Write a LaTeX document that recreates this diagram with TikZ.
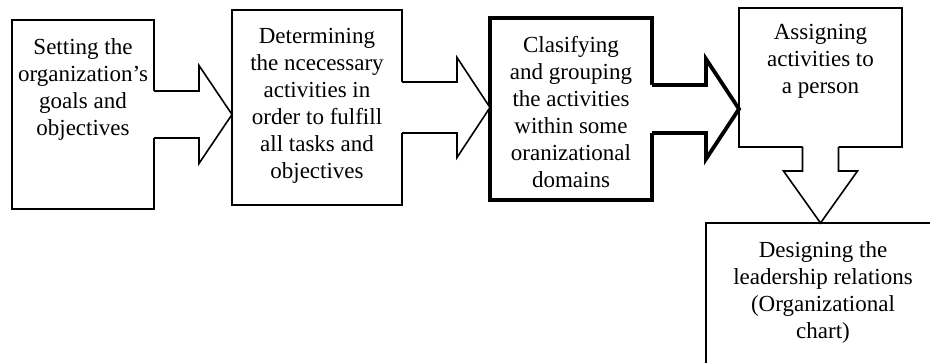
\documentclass[tikz,border=0pt]{standalone}
\usepackage{fontspec}
\setmainfont{Liberation Serif}
\usetikzlibrary{calc}

% block arrow pointing right: [style]{from}{to}{half shaft}{half head}
\newcommand{\blockright}[5][]{%
  \fill[white] let \p1=(#2.east), \p2=(#3.west) in
    (\x1-3pt,\y1+#4pt) -- (\x2-33pt,\y1+#4pt) -- (\x2-33pt,\y1+#5pt) -- (\x2,\y1)
    -- (\x2-33pt,\y1-#5pt) -- (\x2-33pt,\y1-#4pt) -- (\x1-3pt,\y1-#4pt) -- cycle;
  \draw[#1] let \p1=(#2.east), \p2=(#3.west) in
    (\x1,\y1+#4pt) -- (\x2-33pt,\y1+#4pt) -- (\x2-33pt,\y1+#5pt) -- (\x2,\y1)
    -- (\x2-33pt,\y1-#5pt) -- (\x2-33pt,\y1-#4pt) -- (\x1,\y1-#4pt);
}
% block arrow pointing down: [style]{from}{to}{half shaft}{half head}
\newcommand{\blockdown}[5][]{%
  \fill[white] let \p1=(#2.south), \p2=(#3.north) in
    (\x1-#4pt,\y1+3pt) -- (\x1-#4pt,\y2+52pt) -- (\x1-#5pt,\y2+52pt) -- (\x1,\y2)
    -- (\x1+#5pt,\y2+52pt) -- (\x1+#4pt,\y2+52pt) -- (\x1+#4pt,\y1+3pt) -- cycle;
  \draw[#1] let \p1=(#2.south), \p2=(#3.north) in
    (\x1-#4pt,\y1) -- (\x1-#4pt,\y2+52pt) -- (\x1-#5pt,\y2+52pt) -- (\x1,\y2)
    -- (\x1+#5pt,\y2+52pt) -- (\x1+#4pt,\y2+52pt) -- (\x1+#4pt,\y1);
}

\tikzset{
  box/.style={rectangle, draw, line width=1.6pt, inner sep=0pt, outer sep=0pt},
  boldbox/.style={box, line width=3.8pt},
  txt/.style={anchor=north, align=center, inner sep=0pt,
              font=\fontsize{23}{27}\selectfont},
  barrow/.style={line width=1.6pt},
  boldarrow/.style={line width=3.8pt}
}

\begin{document}
\begin{tikzpicture}[x=1pt, y=1pt]

\useasboundingbox (0,0) rectangle (930,363);
\clip (0,0) rectangle (930,363);

% --- Boxes ---
\node[box, minimum width=142pt, minimum height=189pt] (goals)    at (83,248.5) {};
\node[box, minimum width=170pt, minimum height=195pt] (activ)    at (317,255.5) {};
\node[boldbox, minimum width=162pt, minimum height=182pt] (group) at (571,254) {};
\node[box, minimum width=163pt, minimum height=139pt] (assign)   at (820.5,285.5) {};
\node[box, minimum width=234pt, minimum height=152pt] (chart)    at (823,64) {};

% --- Texts ---
\node[txt] (goalstxt)  at ([yshift=-18pt]goals.north)  {Setting the\\organization’s\\goals and\\objectives};
\node[txt] (activtxt)  at ([yshift=-18pt]activ.north)  {Determining\\the ncecessary\\activities in\\order to fulfill\\all tasks and\\objectives};
\node[txt] (grouptxt)  at ([yshift=-18pt]group.north)  {Clasifying\\and grouping\\the activities\\within some\\oranizational\\domains};
\node[txt] (assigntxt) at ([yshift=-16pt]assign.north) {Assigning\\activities to\\a person};
\node[txt] (charttxt)  at ([yshift=-18pt]chart.north)  {Designing the\\leadership relations\\(Organizational\\chart)};

% --- Block arrows ---
\blockright[barrow]{goals}{activ}{23.5}{49}
\blockright[barrow]{activ}{group}{25.5}{50}
\blockright[boldarrow]{group}{assign}{24}{50}
\blockdown[barrow]{assign}{chart}{18}{37}

\end{tikzpicture}
\end{document}
